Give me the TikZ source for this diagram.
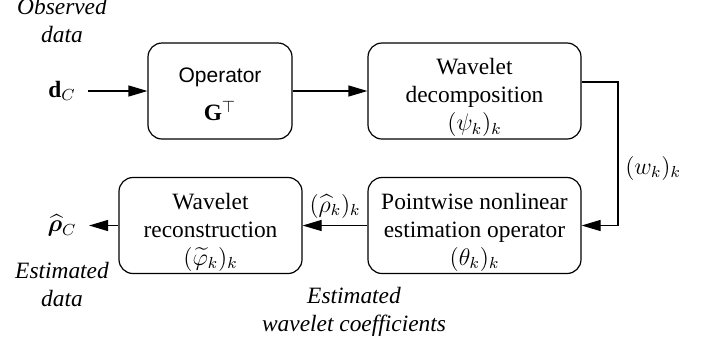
\documentclass[tikz,border=0pt]{standalone}
\usepackage{amsmath,amssymb,bm}
\usepackage{fontspec}
\setmainfont{Liberation Serif}
\setsansfont{Liberation Sans}
\usetikzlibrary{arrows.meta}

\begin{document}
\begin{tikzpicture}[>={Triangle[length=9.5pt,width=5.5pt]}, x=0.5pt, y=-0.5pt, line width=0.6pt,
    block/.style={draw, rounded corners=7pt, align=center, minimum height=48pt, inner xsep=2pt, inner ysep=0pt,
                  font=\fontsize{11.7}{14}\selectfont},
    note/.style={align=center, font=\fontsize{11.7}{14}\selectfont\itshape},
    sig/.style={font=\fontsize{11.7}{14}\selectfont, inner xsep=6pt}]
                    \useasboundingbox (0,0) rectangle (711,344);

                    \node[block, minimum width=72pt] (A) at (220,91) {\rule{0pt}{11pt}\fontsize{10.5}{12}\sffamily Operator\\[5pt] $\mathbf{G}^{\top}$};
                    \node[block, minimum width=106.5pt] (B) at (474.5,91) {\rule{0pt}{14.5pt}Wavelet\\ decomposition\\ $(\psi_k)_k$};
                    \node[block, minimum width=106.5pt] (D) at (474.5,225.5) {\rule{0pt}{14.5pt}Pointwise nonlinear\\ estimation operator\\ $(\theta_k)_k$};
                    \node[block, minimum width=91.5pt] (C) at (210.5,225.5) {\rule{0pt}{14.5pt}Wavelet\\ reconstruction\\ $(\widetilde{\varphi}_k)_k$};

                    \node[sig] (dC) at (62,91) {$\mathbf{d}_C$};
                    \node[sig] (rhoC) at (62,225.5) {$\widehat{\bm{\rho}}_C$};
                    \coordinate (turn) at (618,82);

                    \node[note] (obs) at (62,20) {Observed\\ data};
                    \node[note] (est) at (62,284) {Estimated\\ data};
                    \node[note] (coef) at (354,312) {Estimated\\ wavelet coefficients};

                    \draw[->] (dC) -- (A);
                    \draw[->] (A) -- (B);
                    \draw[->] (B.east |- turn) -- (turn) |- (D.east) node[right, pos=0.3, font=\fontsize{11.7}{14}\selectfont] {$(w_k)_k$};
                    \draw[->] (D) -- (C) node[above, midway, font=\fontsize{11.7}{14}\selectfont] {$(\widehat{\rho}_k)_k$};
                    \draw[->] (C) -- (rhoC);
                \end{tikzpicture}
\end{document}
